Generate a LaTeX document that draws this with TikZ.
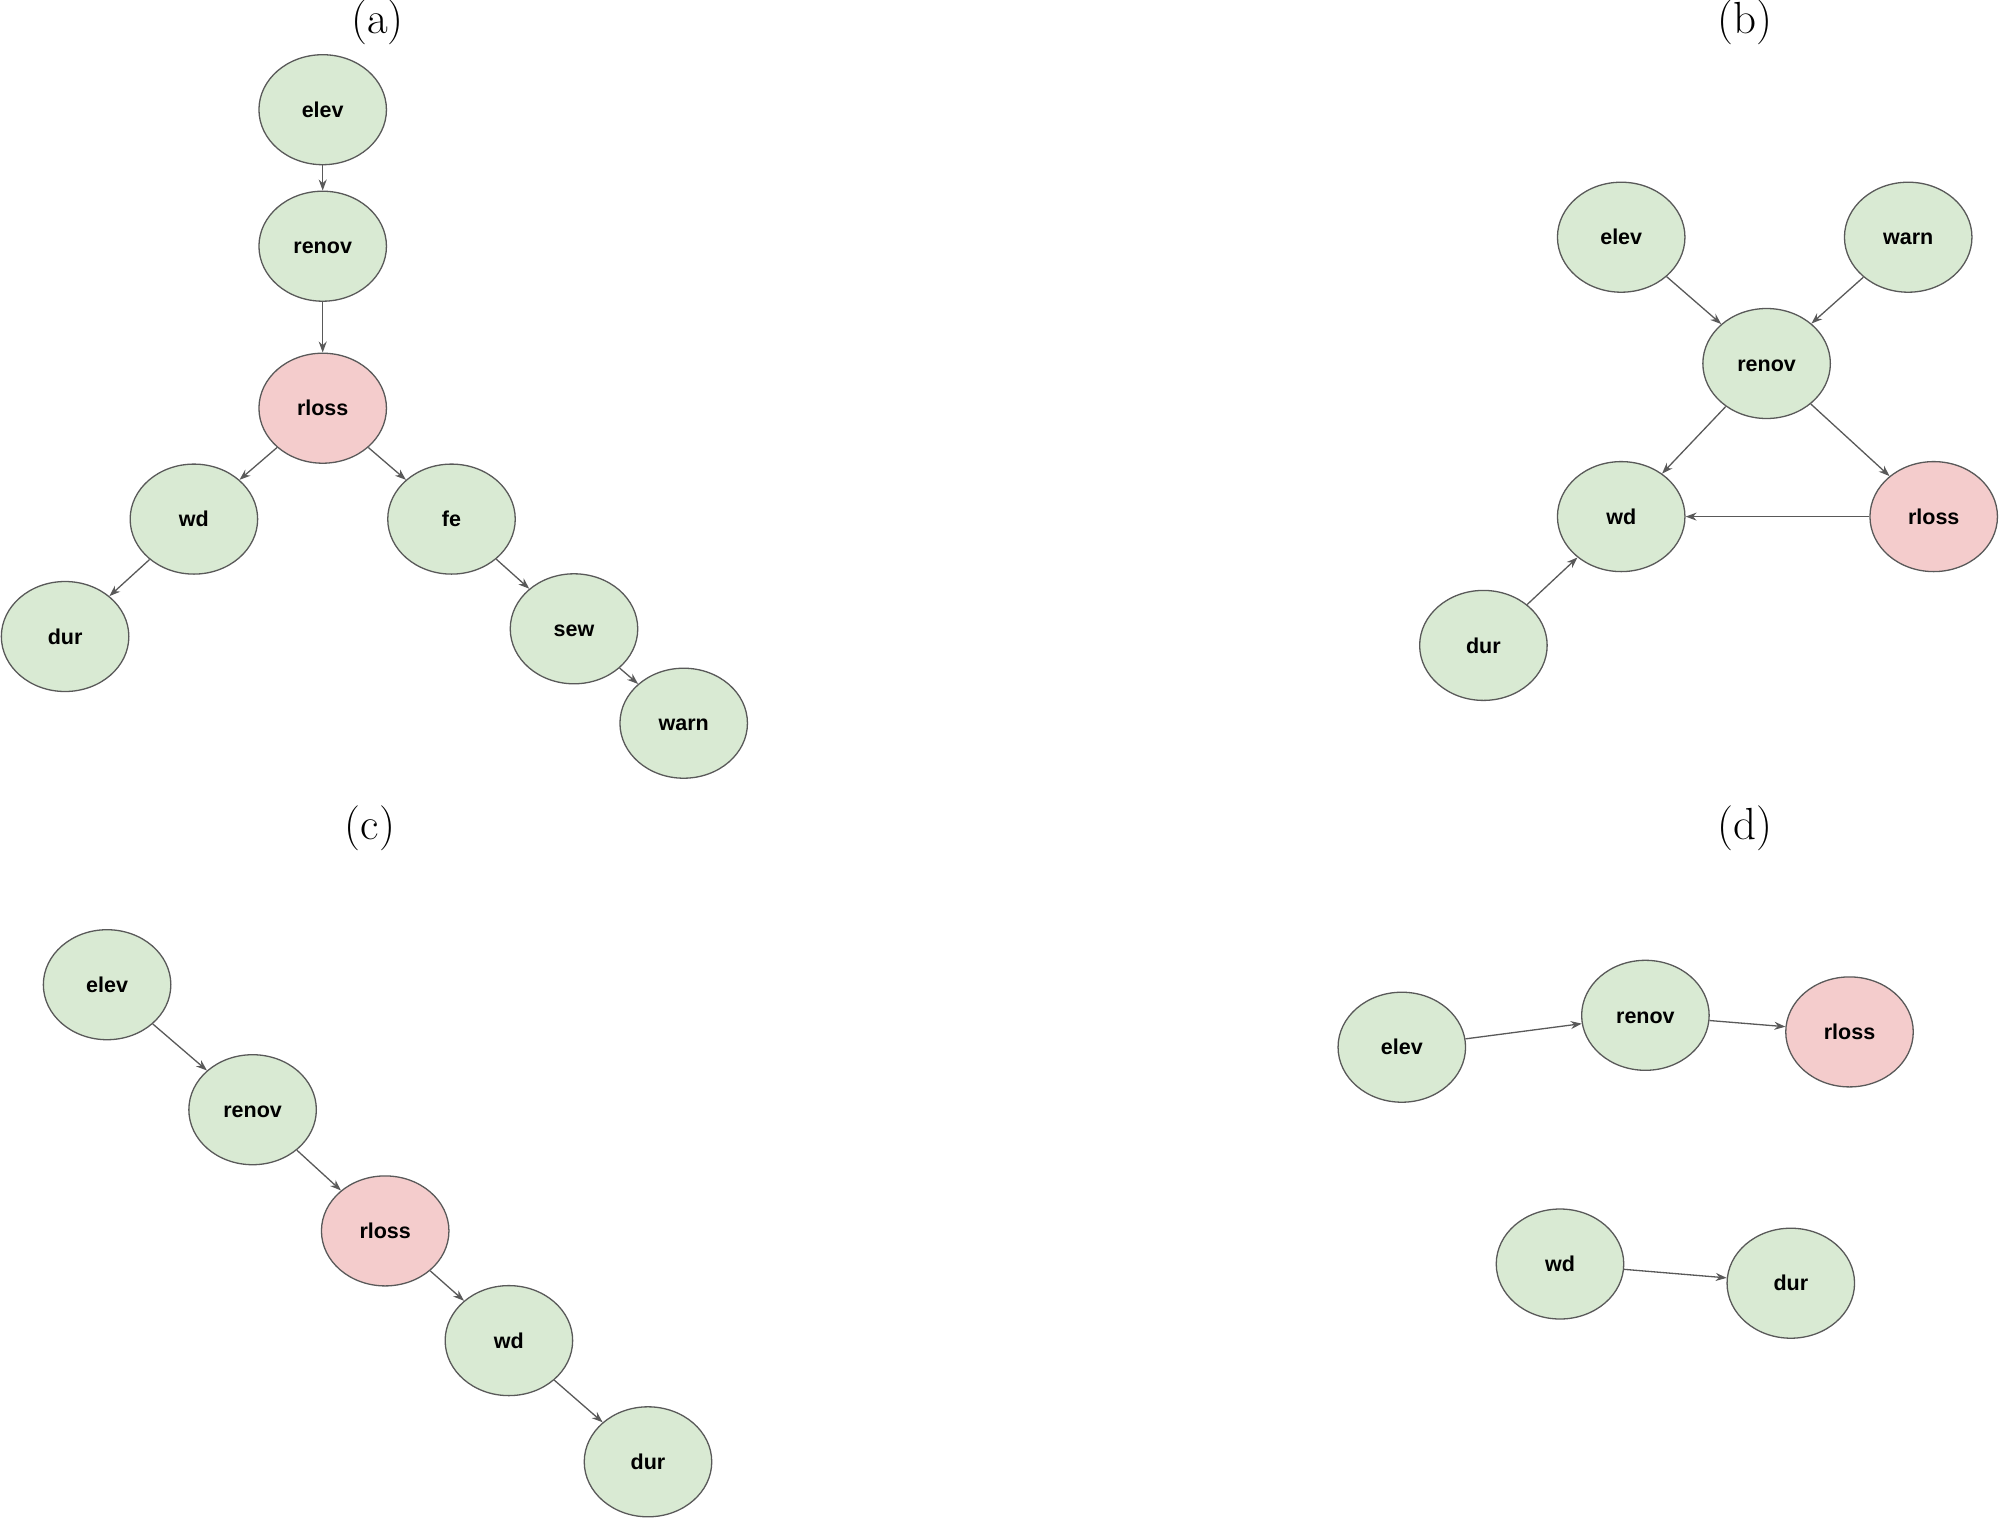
\documentclass[tikz,border=0pt]{standalone}
\usepackage{fontspec}
\newfontfamily\nodefont{Liberation Sans}
\usetikzlibrary{shapes.geometric,arrows.meta}
\definecolor{gfill}{HTML}{D9EAD3}
\definecolor{rfill}{HTML}{F4CCCC}
\definecolor{lcol}{HTML}{595959}
\tikzset{
  var/.style={ellipse,draw=lcol,line width=1.3pt,fill=gfill,minimum width=127.5pt,minimum height=110pt,inner sep=0pt,
    text height=15.5pt,text depth=0pt,
    font=\nodefont\bfseries\fontsize{21.5}{26}\selectfont,text=black},
  target/.style={var,fill=rfill},
  edge/.style={draw=lcol,line width=1.3pt,-{Stealth[length=11pt,width=8pt]}},
  plabel/.style={font=\fontsize{45}{52}\selectfont,inner sep=0pt}
}
\begin{document}
\begin{tikzpicture}[x=1pt,y=-1pt]
\useasboundingbox (0,0) rectangle (2000,1518);
% panel (a)
\node[plabel] (la) at (377.6,22) {(a)};
\node[var] (aelev) at (322.7,109.7) {elev};
\node[var] (arenov) at (322.7,246.2) {renov};
\node[target] (arloss) at (322.7,408.2) {rloss};
\node[var] (awd) at (193.9,519.1) {wd};
\node[var] (afe) at (451.5,519.1) {fe};
\node[var] (adur) at (65.1,636.5) {dur};
\node[var] (asew) at (574.0,628.8) {sew};
\node[var] (awarn) at (683.7,723.2) {warn};
\draw[edge] (aelev) -- (arenov);
\draw[edge] (arenov) -- (arloss);
\draw[edge] (arloss) -- (awd);
\draw[edge] (arloss) -- (afe);
\draw[edge] (awd) -- (adur);
\draw[edge] (afe) -- (asew);
\draw[edge] (asew) -- (awarn);
% panel (b)
\node[plabel] (lb) at (1744.9,22) {(b)};
\node[var] (belev) at (1621.2,237.2) {elev};
\node[var] (bwarn) at (1908.2,237.2) {warn};
\node[var] (brenov) at (1766.6,363.5) {renov};
\node[var] (bwd) at (1621.2,516.6) {wd};
\node[target] (brloss) at (1933.7,516.6) {rloss};
\node[var] (bdur) at (1483.4,645.4) {dur};
\draw[edge] (belev) -- (brenov);
\draw[edge] (bwarn) -- (brenov);
\draw[edge] (brenov) -- (bwd);
\draw[edge] (brenov) -- (brloss);
\draw[edge] (brloss) -- (bwd);
\draw[edge] (bdur) -- (bwd);
% panel (c)
\node[plabel] (lc) at (369.9,828) {(c)};
\node[var] (celev) at (107.1,984.7) {elev};
\node[var] (crenov) at (252.6,1109.7) {renov};
\node[target] (crloss) at (385.2,1230.9) {rloss};
\node[var] (cwd) at (508.9,1340.6) {wd};
\node[var] (cdur) at (648.0,1461.8) {dur};
\draw[edge] (celev) -- (crenov);
\draw[edge] (crenov) -- (crloss);
\draw[edge] (crloss) -- (cwd);
\draw[edge] (cwd) -- (cdur);
% panel (d)
\node[plabel] (ld) at (1744.9,828) {(d)};
\node[var] (delev) at (1401.8,1047.2) {elev};
\node[var] (drenov) at (1645.4,1015.3) {renov};
\node[target] (drloss) at (1849.5,1031.9) {rloss};
\node[var] (dwd) at (1560.0,1264.0) {wd};
\node[var] (ddur) at (1790.8,1283.2) {dur};
\draw[edge] (delev) -- (drenov);
\draw[edge] (drenov) -- (drloss);
\draw[edge] (dwd) -- (ddur);
\end{tikzpicture}
\end{document}
